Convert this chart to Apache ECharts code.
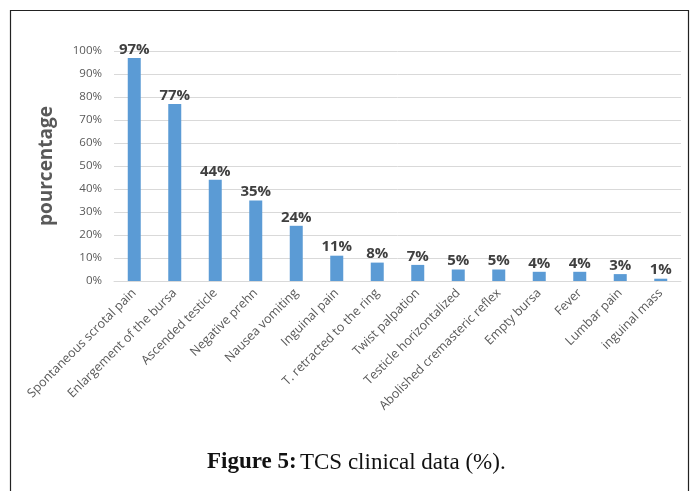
<!DOCTYPE html>
<html><head><meta charset="utf-8">
<script src="https://cdn.jsdelivr.net/npm/echarts@6/dist/echarts.min.js"></script>
<style>html,body{margin:0;padding:0;background:#fff}#c{width:695px;height:491px}</style>
</head><body><div id="c"></div>
<script>
var categories = ["Spontaneous scrotal pain","Enlargement of the bursa","Ascended testicle","Negative prehn","Nausea vomiting","Inguinal pain","T. retracted to the ring","Twist palpation","Testicle horizontalized","Abolished cremasteric reflex","Empty bursa","Fever","Lumbar pain","inguinal mass"];
var values = [97,77,44,35,24,11,8,7,5,5,4,4,3,1];
var yTicks = [0,10,20,30,40,50,60,70,80,90,100];

var chart = echarts.init(document.getElementById('c'), null, {renderer:'canvas'});
chart.setOption({
  animation:false,
  backgroundColor:'#fff',
  grid:{left:114, right:14, top:51, bottom:210},
  xAxis:{type:'category', data:categories,
    axisLine:{show:true, lineStyle:{color:'#d9d9d9'}},
    axisTick:{show:false},
    axisLabel:{rotate:45, interval:0, color:'#595959', fontSize:12.5, fontFamily:'Open Sans', margin:10}},
  yAxis:{type:'value', min:0, max:100, interval:10,
    name:'pourcentage', nameLocation:'middle', nameGap:58, nameRotate:90,
    nameTextStyle:{color:'#595959', fontSize:19, fontWeight:'bold', fontFamily:'Open Sans'},
    axisLine:{show:false}, axisTick:{show:false},
    splitLine:{lineStyle:{color:'#d9d9d9'}},
    axisLabel:{formatter:function(v){return yTicks.indexOf(v)>=0? v+'%':'';}, color:'#595959', fontSize:11.5, fontFamily:'Open Sans', margin:12}},
  series:[{type:'bar', data:values, barWidth:13,
    itemStyle:{color:'#5B9BD5'},
    label:{show:true, position:'top', distance:1, formatter:'{c}%', color:'#404040', fontSize:15, fontWeight:'bold', fontFamily:'Open Sans'}}],
  graphic:[
    {type:'rect', shape:{x:10.5,y:10.5,width:678,height:500}, style:{fill:'none', stroke:'#222', lineWidth:1.2}, silent:true},
    {type:'text', left:207, top:451, style:{
      rich:{b:{fontFamily:'Liberation Serif', fontWeight:'bold', fontSize:23, fill:'#111'}, n:{fontFamily:'Liberation Serif', fontSize:23, fill:'#111'}},
      text:'{b|Figure 5:} {n|TCS clinical data (%).}'}}
  ]
});
</script></body></html>
